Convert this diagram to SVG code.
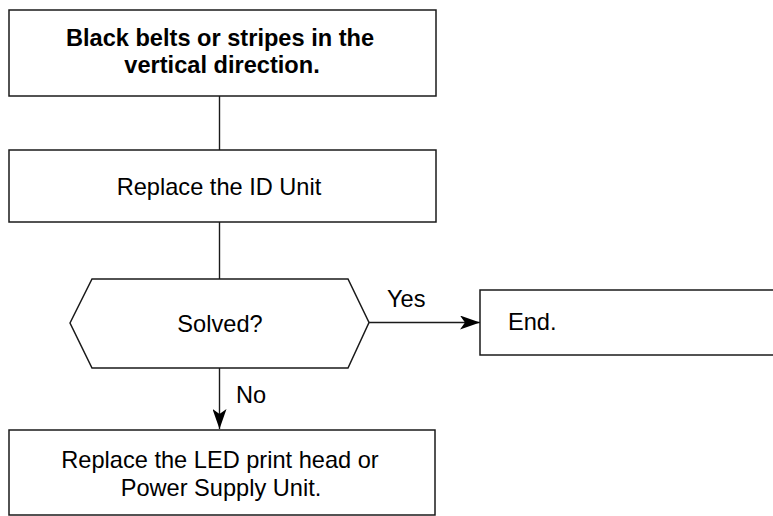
<svg xmlns="http://www.w3.org/2000/svg" width="773" height="516" viewBox="0 0 773 516">
<style>
.box{fill:#fff;stroke:#1a1a1a;stroke-width:1.5}
.t{font-family:"Liberation Sans",Arial,sans-serif;font-size:23.6px;fill:#000}
.b{font-weight:bold}
.c{text-anchor:middle}
.ln{fill:none;stroke:#1a1a1a;stroke-width:1.4}
</style>
<defs>
<marker id="arr" viewBox="0 0 20 14" refX="20" refY="7" markerWidth="20" markerHeight="14" markerUnits="userSpaceOnUse" orient="auto">
<path d="M0,0 L20,7 L0,14 L5,7 Z" fill="#000"/>
</marker>
</defs>
<rect width="773" height="516" fill="#fff"/>
<g id="connectors">
<line class="ln" x1="219.5" y1="96" x2="219.5" y2="150"/>
<line class="ln" x1="219.5" y1="222" x2="219.5" y2="279"/>
<line class="ln" x1="219.5" y1="368" x2="219.5" y2="429" marker-end="url(#arr)"/>
<line class="ln" x1="369" y1="322.5" x2="480" y2="322.5" marker-end="url(#arr)"/>
<text class="t" x="236" y="403">No</text>
<text class="t" x="387" y="307">Yes</text>
</g>
<g id="n1">
<rect class="box" x="9" y="10" width="427" height="86"/>
<text class="t b c" x="220" y="45.5">Black belts or stripes in the</text>
<text class="t b c" x="222" y="72.5">vertical direction.</text>
</g>
<g id="n2">
<rect class="box" x="9" y="150" width="427" height="72"/>
<text class="t c" x="219" y="195">Replace the ID Unit</text>
</g>
<g id="n3">
<polygon class="box" points="70,323 92,279 348,279 369,322.5 348,368 92,368"/>
<text class="t c" x="220" y="332">Solved?</text>
</g>
<g id="n4">
<rect class="box" x="480" y="290" width="300" height="65"/>
<text class="t" x="508" y="330">End.</text>
</g>
<g id="n5">
<rect class="box" x="9" y="430" width="426" height="85"/>
<text class="t c" x="220" y="468">Replace the LED print head or</text>
<text class="t c" x="221" y="496">Power Supply Unit.</text>
</g>
</svg>
